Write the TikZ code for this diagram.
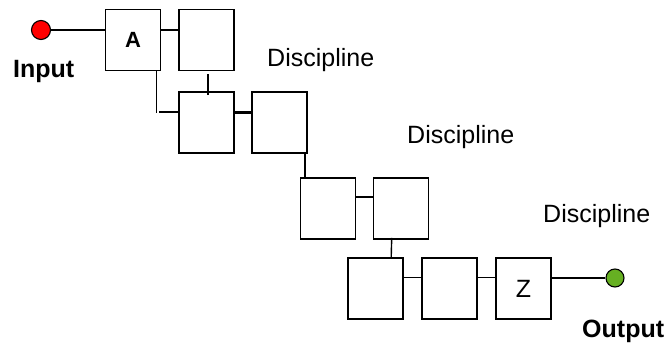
\documentclass[tikz,border=0pt]{standalone}
\usepackage{fontspec}
\setmainfont{Liberation Sans}
\usetikzlibrary{calc}
\definecolor{inred}{RGB}{255,0,0}
\definecolor{outgreen}{RGB}{102,176,34}
\begin{document}
\begin{tikzpicture}[x=1pt,y=1pt,
  blockbox/.style={draw=black,line width=1.6pt,minimum width=55pt,minimum height=61pt,
    inner sep=0pt,fill=white,font=\fontsize{25}{25}\selectfont},
  port/.style={circle,draw=black,line width=1.1pt,minimum size=19pt,inner sep=0pt},
  link/.style={line width=1.4pt},
  thicklink/.style={line width=2.8pt},
  lbl/.style={inner sep=0pt,anchor=base west,font=\fontsize{25}{25}\selectfont}]
\useasboundingbox (0,0) rectangle (672,343);

% terminals
\node[port,fill=inred] (in) at (41,313) {};
\node[port,fill=outgreen,minimum size=18pt] (out) at (615,65) {};

% blocks, row by row
\node[blockbox] (b1) at (133,303) {\fontsize{22}{22}\selectfont\bfseries A};
\node[blockbox] (b2) at (206.5,303) {};
\node[blockbox] (b3) at (206.5,220.5) {};
\node[blockbox] (b4) at (279.5,220.5) {};
\node[blockbox] (b5) at (328,134.5) {};
\node[blockbox] (b6) at (401,134.5) {};
\node[blockbox] (b7) at (375.5,54.5) {};
\node[blockbox] (b8) at (449.5,54.5) {};
\node[blockbox] (b9) at (523.5,54.5) {Z};

% connectors
\draw[link] (in.east) -- (in -| b1.west);
\draw[link] (b1.east |- in) -- (b2.west |- in);
\draw[link] ($(b1.south east)+(-5,0)$) -- ++(0,-42);
\draw[link] ($(b3.north west)+(0,-21)$) -- ++(-19,0);
\draw[link] ($(b2.south)+(1.5,-3)$) -- ($(b3.north)+(1.5,-4)$);
\draw[thicklink] ($(b3.north east)+(0,-21)$) -- ($(b4.north west)+(0,-21)$);
\draw[link] ($(b4.south east)+(-3,0)$) -- ++(0,-25);
\draw[link] ($(b5.north east)+(0,-20)$) -- ($(b6.north west)+(0,-20)$);
\draw[link] ($(b6.south west)+(19,2)$) -- ($(b7.north west)+(44,0)$);
\draw[link] ($(b7.north east)+(0,-20)$) -- ($(b8.north west)+(0,-20)$);
\draw[link] ($(b8.north east)+(0,-20)$) -- ($(b9.north west)+(0,-20)$);
\draw[link] (b9.east |- out) -- (out.west);

% labels
\node[lbl,font=\fontsize{25}{25}\selectfont\bfseries] (tin) at (13,265) {Input};
\node[lbl,font=\fontsize{25}{25}\selectfont\bfseries] (tout) at (582,6) {Output};
\node[lbl] (d1) at (267,276) {Discipline};
\node[lbl] (d2) at (407,199) {Discipline};
\node[lbl] (d3) at (543,121) {Discipline};
\end{tikzpicture}
\end{document}
